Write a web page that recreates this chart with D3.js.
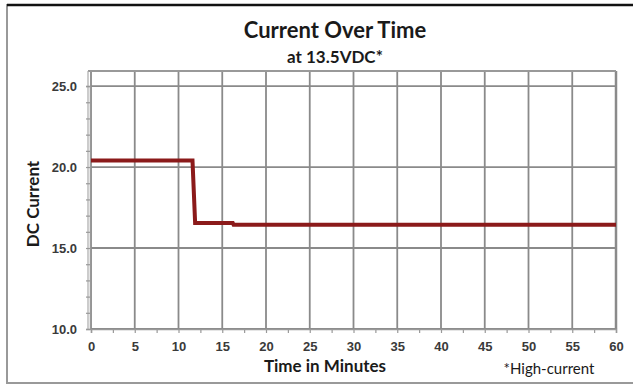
<!DOCTYPE html>
<html>
<head>
<meta charset="utf-8">
<script src="https://cdn.jsdelivr.net/npm/d3@7"></script>
<style>
body{margin:0;background:#fff;}
svg{display:block;font-family:Lato,"Open Sans",sans-serif;}
.lbl{fill:#3a3a3a;font-size:13px;font-weight:bold;}
</style>
</head>
<body>
<div id="chart"></div>
<script>
// values
var minutes=[0,11.6,11.9,16.2,16.3,60];
var current=[20.4,20.4,16.55,16.55,16.43,16.43];
var xTicks=[0,5,10,15,20,25,30,35,40,45,50,55,60];
var yTicks=[10,15,20,25];

var W=633,H=386;
var margin={top:71,right:17,bottom:57,left:91};
var width=W-margin.left-margin.right,
height=H-margin.top-margin.bottom;

var svg=d3.select("#chart").append("svg").attr("width",W).attr("height",H);

// outer frame (right side runs off the picture)
svg.append("rect").attr("x",7).attr("y",5).attr("width",W+10).attr("height",378)
  .attr("fill","none").attr("stroke","#999").attr("stroke-width",2);
svg.append("line").attr("x1",7).attr("x2",W).attr("y1",5).attr("y2",5)
  .attr("stroke","#111").attr("stroke-width",2.5);

var x=d3.scaleLinear().domain([0,60]).range([0,width]);
// top of plot box sits a little above 25
var y=d3.scaleLinear().domain([10,25]).range([height,height-(height)*15/15.93]);
var g=svg.append("g").attr("transform","translate("+margin.left+","+margin.top+")");

// grid
g.selectAll(".vg").data(xTicks).enter().append("line")
  .attr("x1",d=>x(d)).attr("x2",d=>x(d)).attr("y1",0).attr("y2",height)
  .attr("stroke","#8a8a8a").attr("stroke-width",d=>d==60?2.5:1.8);
g.selectAll(".hg").data(yTicks).enter().append("line")
  .attr("x1",0).attr("x2",width).attr("y1",d=>y(d)).attr("y2",d=>y(d))
  .attr("stroke","#8a8a8a").attr("stroke-width",1.8);
g.append("line").attr("x1",-3).attr("x2",width).attr("y1",0).attr("y2",0)
  .attr("stroke","#999").attr("stroke-width",1.8);
g.append("line").attr("x1",-3).attr("x2",-3).attr("y1",0).attr("y2",height)
  .attr("stroke","#aaa").attr("stroke-width",1.2);

// axes
var yAxis=g.append("g").attr("transform","translate(-1,0)")
  .call(d3.axisLeft(y).tickValues(d3.range(10,26,1)).tickSize(4)
    .tickFormat(d=>d%5==0?d3.format(".1f")(d):""));
var xAxis=g.append("g").attr("transform","translate(0,"+height+")")
  .call(d3.axisBottom(x).tickValues(d3.range(0,61,2.5)).tickSize(4)
    .tickFormat(d=>d%5==0?d:""));
[yAxis,xAxis].forEach(function(a){
  a.select(".domain").attr("stroke","#999").attr("stroke-width",1.5);
  a.selectAll(".tick line").attr("stroke","#999").attr("stroke-width",1.2);
  a.selectAll(".tick text").attr("class","lbl").attr("font-family",null).attr("font-size",null);
});
yAxis.selectAll(".tick text").attr("x",-13);
xAxis.selectAll(".tick text").attr("y",13);

// series
var pts=minutes.map((m,i)=>[m,current[i]]);
g.append("path").datum(pts)
  .attr("fill","none").attr("stroke","#8b1a1a").attr("stroke-width",4)
  .attr("stroke-linejoin","miter")
  .attr("d",d3.line().x(d=>x(d[0])).y(d=>y(d[1])));

// titles
svg.append("text").attr("x",335).attr("y",38).attr("text-anchor","middle")
  .style("font-size","22px").style("font-weight","bold").attr("fill","#1a1a1a").text("Current Over Time");
svg.append("text").attr("x",335).attr("y",63).attr("text-anchor","middle")
  .style("font-size","17px").style("font-weight","bold").attr("fill","#1a1a1a").text("at 13.5VDC*");
svg.append("text").attr("x",325).attr("y",372).attr("text-anchor","middle")
  .style("font-size","17px").style("font-weight","bold").attr("fill","#1a1a1a").text("Time in Minutes");
svg.append("text").attr("transform","translate(39,204) rotate(-90)").attr("text-anchor","middle")
  .style("font-size","17px").style("font-weight","bold").attr("fill","#1a1a1a").text("DC Current");
svg.append("text").attr("x",549).attr("y",374).attr("text-anchor","middle")
  .style("font-size","15px").attr("fill","#1a1a1a").text("*High-current");
</script>
</body>
</html>
